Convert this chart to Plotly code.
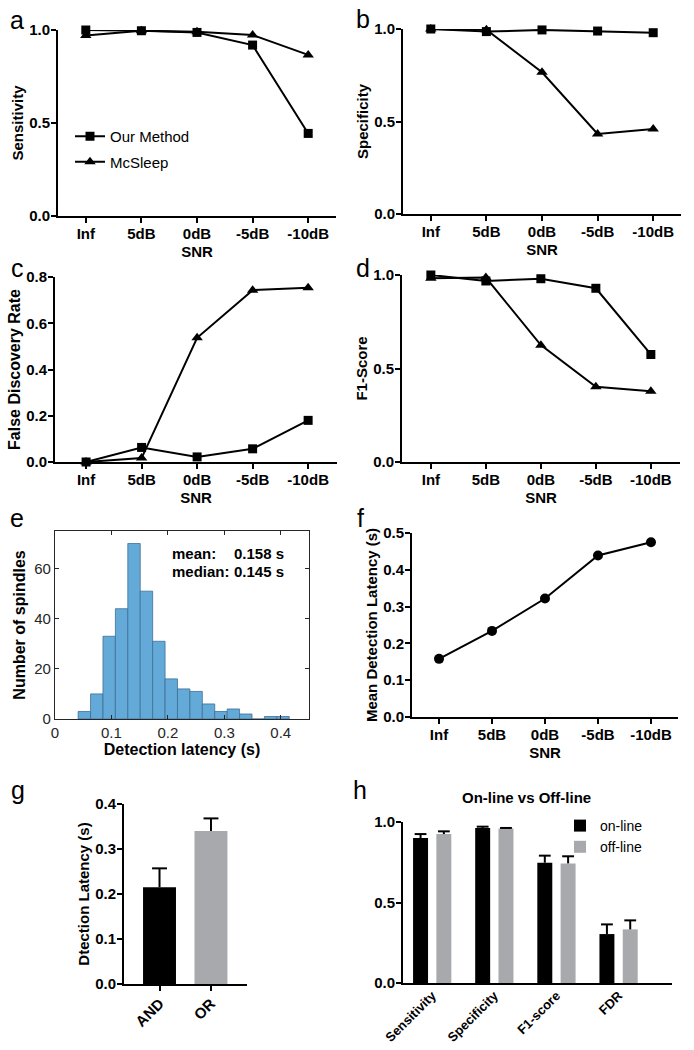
import plotly.graph_objects as go

W, H = 694, 1050
FONT = "Liberation Sans, Arial, sans-serif"

# ---- data ----
snr = ['Inf', '5dB', '0dB', '-5dB', '-10dB']

sens_ours = [1.0, 0.996, 0.987, 0.919, 0.444]
sens_mc = [0.971, 0.996, 0.991, 0.973, 0.866]
spec_ours = [1.0, 0.986, 0.995, 0.989, 0.980]
spec_mc = [1.0, 0.996, 0.766, 0.433, 0.459]
fdr_ours = [0.0, 0.063, 0.022, 0.057, 0.180]
fdr_mc = [0.0, 0.017, 0.537, 0.743, 0.753]
f1_ours = [1.0, 0.968, 0.980, 0.929, 0.575]
f1_mc = [0.982, 0.986, 0.625, 0.402, 0.379]

hist_start = 0.041
hist_width = 0.022
hist_counts = [3, 10, 33, 44, 70, 51, 31, 16, 12, 11, 6, 3, 4, 2, 0, 1, 1]
hist_mean = '0.158 s'
hist_median = '0.145 s'

latency_mean = [0.158, 0.234, 0.322, 0.439, 0.475]

logic = ['AND', 'OR']
logic_latency = [0.215, 0.340]
logic_err = [0.042, 0.028]

metrics = ['Sensitivity', 'Specificity', 'F1-score', 'FDR']
online = [0.900, 0.963, 0.747, 0.304]
online_err = [0.025, 0.008, 0.044, 0.060]
offline = [0.925, 0.959, 0.743, 0.333]
offline_err = [0.017, 0.004, 0.044, 0.056]


# pixel helpers -> paper domains
def dx(left, right):
    return [left / W, right / W]


def dy(top, bottom):
    return [1 - bottom / H, 1 - top / H]


def prism_axis(domain, rng, **kw):
    d = dict(domain=domain, range=rng, showline=True, linecolor='black', linewidth=2,
             ticks='outside', ticklen=5, tickwidth=2, tickcolor='black',
             showgrid=False, zeroline=False, automargin=False, ticklabelstandoff=-2,
             tickfont=dict(family=FONT, size=15, color='black', weight='bold'))
    d.update(kw)
    return d


def title(text, size=15, standoff=6):
    return dict(text=text, standoff=standoff,
                font=dict(family=FONT, size=size, color='black', weight='bold'))


def err_lines(xs, tops, errs, half):
    ex, ey = [], []
    for x, t, e in zip(xs, tops, errs):
        ex += [x, x, None, x - half, x + half, None]
        ey += [t, t + e, None, t + e, t + e, None]
    return ex, ey


fig = go.Figure()

line = dict(color='black', width=2)
sq = dict(symbol='square', size=9, color='black')
tri = dict(symbol='triangle-up', size=10, color='black')

# a - d: line panels
panels = [('x', 'y', sens_ours, sens_mc), ('x2', 'y2', spec_ours, spec_mc),
          ('x3', 'y3', fdr_ours, fdr_mc), ('x4', 'y4', f1_ours, f1_mc)]
for i, (xa, ya, ours, mc) in enumerate(panels):
    fig.add_trace(go.Scatter(x=snr, y=ours, mode='lines+markers', name='Our Method',
                             line=line, marker=sq, xaxis=xa, yaxis=ya, cliponaxis=False,
                             showlegend=(i == 0), legend='legend', legendgroup='ours'))
    fig.add_trace(go.Scatter(x=snr, y=mc, mode='lines+markers', name='McSleep',
                             line=line, marker=tri, xaxis=xa, yaxis=ya, cliponaxis=False,
                             showlegend=(i == 0), legend='legend', legendgroup='mc'))

# e: histogram
centers = [hist_start + hist_width * (k + 0.5) for k in range(len(hist_counts))]
fig.add_trace(go.Bar(x=centers, y=hist_counts, width=hist_width, xaxis='x5', yaxis='y5',
                     marker=dict(color='#64aad9', line=dict(color='#3f6e94', width=0.8)),
                     showlegend=False))

# f: mean latency
fig.add_trace(go.Scatter(x=snr, y=latency_mean, mode='lines+markers', line=line,
                         marker=dict(symbol='circle', size=10, color='black'),
                         xaxis='x6', yaxis='y6', cliponaxis=False, showlegend=False))

# g: AND / OR bars
gx = list(range(len(logic)))
fig.add_trace(go.Bar(x=gx, y=logic_latency, width=0.64, xaxis='x7', yaxis='y7',
                     marker=dict(color=['black', '#a7a9ac'], line=dict(width=0)),
                     showlegend=False))
ex, ey = err_lines(gx, logic_latency, logic_err, 0.145)
fig.add_trace(go.Scatter(x=ex, y=ey, mode='lines', line=dict(color='black', width=2),
                         xaxis='x7', yaxis='y7', cliponaxis=False, showlegend=False))

# h: on-line vs off-line
off = 0.1875
hx_on = [k - off for k in range(len(metrics))]
hx_off = [k + off for k in range(len(metrics))]
fig.add_trace(go.Bar(x=hx_on, y=online, width=0.241, name='on-line', xaxis='x8', yaxis='y8',
                     marker=dict(color='black', line=dict(width=0)), legend='legend2'))
fig.add_trace(go.Bar(x=hx_off, y=offline, width=0.241, name='off-line', xaxis='x8', yaxis='y8',
                     marker=dict(color='#a7a9ac', line=dict(width=0)), legend='legend2'))
for xs, ys, es in [(hx_on, online, online_err), (hx_off, offline, offline_err)]:
    ex, ey = err_lines(xs, ys, es, 0.095)
    fig.add_trace(go.Scatter(x=ex, y=ey, mode='lines', line=dict(color='black', width=2),
                             xaxis='x8', yaxis='y8', cliponaxis=False, showlegend=False))

# ---- layout ----
cat5 = dict(type='category', categoryorder='array', categoryarray=snr)
fig.update_layout(
    template='none',
    width=W, height=H, margin=dict(l=0, r=0, t=0, b=0, autoexpand=False),
    paper_bgcolor='white', plot_bgcolor='white', barmode='overlay',
    font=dict(family=FONT, color='black'),
    xaxis=prism_axis(dx(58, 336), [-0.5, 4.5], anchor='y', title=title('SNR', standoff=5), **cat5),
    yaxis=prism_axis(dy(30, 216), [0, 1], anchor='x', tickvals=[0, 0.5, 1], tickformat='.1f',
                     title=title('Sensitivity', standoff=2)),
    xaxis2=prism_axis(dx(403, 681), [-0.5, 4.5], anchor='y2', title=title('SNR', standoff=5), **cat5),
    yaxis2=prism_axis(dy(29, 214), [0, 1], anchor='x2', tickvals=[0, 0.5, 1], tickformat='.1f',
                      title=title('Specificity', standoff=2)),
    xaxis3=prism_axis(dx(55, 337), [-0.56, 4.52], anchor='y3', title=title('SNR', standoff=5), **cat5),
    yaxis3=prism_axis(dy(277, 462), [0, 0.8], anchor='x3', tickvals=[0, 0.2, 0.4, 0.6, 0.8],
                      tickformat='.1f', title=title('False Discovery Rate', size=16, standoff=2)),
    xaxis4=prism_axis(dx(402, 680), [-0.525, 4.53], anchor='y4', title=title('SNR', standoff=5), **cat5),
    yaxis4=prism_axis(dy(275, 462), [0, 1], anchor='x4', tickvals=[0, 0.5, 1], tickformat='.1f',
                      title=title('F1-Score', standoff=2)),
    xaxis5=dict(domain=dx(55, 309), range=[0, 0.45], anchor='y5', showline=True, mirror='ticks',
                linecolor='#262626', linewidth=1.2, ticks='inside', ticklen=4, tickcolor='#262626',
                tickvals=[0, 0.1, 0.2, 0.3, 0.4], showgrid=False, zeroline=False, automargin=False,
                tickfont=dict(family=FONT, size=15, color='#262626'),
                title=title('Detection latency (s)', size=16, standoff=3)),
    yaxis5=dict(domain=dy(531, 719), range=[0, 75], anchor='x5', showline=True, mirror='ticks',
                linecolor='#262626', linewidth=1.2, ticks='inside', ticklen=4, tickcolor='#262626',
                tickvals=[0, 20, 40, 60], showgrid=False, zeroline=False, automargin=False,
                tickfont=dict(family=FONT, size=15, color='#262626'),
                title=title('Number of spindles', size=16, standoff=4)),
    xaxis6=prism_axis(dx(412, 678), [-0.51, 4.51], anchor='y6', title=title('SNR', standoff=5), **cat5),
    yaxis6=prism_axis(dy(533, 717), [0, 0.5], anchor='x6', dtick=0.1, tickformat='.1f',
                      title=title('Mean Detection Latency (s)', standoff=2)),
    xaxis7=prism_axis(dx(124, 247), [-0.69, 1.7], anchor='y7', tickvals=gx, ticktext=logic,
                      tickangle=-45),
    yaxis7=prism_axis(dy(804, 984), [0, 0.4], anchor='x7', dtick=0.1, tickformat='.1f',
                      title=title('Dtection Latency (s)', standoff=2)),
    xaxis8=prism_axis(dx(403, 672), [-0.47, 3.86], anchor='y8', ticks='',
                      tickvals=list(range(len(metrics))), ticktext=metrics, tickangle=-45,
                      tickfont=dict(family=FONT, size=13, color='black', weight='bold')),
    yaxis8=prism_axis(dy(822, 983), [0, 1], anchor='x8', tickvals=[0, 0.5, 1], tickformat='.1f'),
    legend=dict(x=70 / W, y=1 - 120 / H, xanchor='left', yanchor='top', bgcolor='rgba(0,0,0,0)',
                font=dict(family=FONT, size=15, color='black'), tracegroupgap=3),
    legend2=dict(x=560 / W, y=1 - 810 / H, xanchor='left', yanchor='top', bgcolor='rgba(0,0,0,0)',
                 font=dict(family=FONT, size=14, color='black')),
)

# panel letters
for letter, px, py in [('a', 17, 20), ('b', 363, 19), ('c', 17, 268), ('d', 363, 268),
                       ('e', 17, 518), ('f', 360, 518), ('g', 18, 790), ('h', 360, 790)]:
    fig.add_annotation(text=letter, x=px / W, y=1 - py / H, xref='paper', yref='paper',
                       xanchor='center', yanchor='middle', showarrow=False,
                       font=dict(family=FONT, size=25, color='black'))

# histogram stats
for label, val, py in [('mean:', hist_mean, 553), ('median:', hist_median, 571)]:
    fig.add_annotation(text=label, x=170 / W, y=1 - py / H, xref='paper', yref='paper',
                       xanchor='left', yanchor='middle', showarrow=False,
                       font=dict(family=FONT, size=15, color='black', weight='bold'))
    fig.add_annotation(text=val, x=232 / W, y=1 - py / H, xref='paper', yref='paper',
                       xanchor='left', yanchor='middle', showarrow=False,
                       font=dict(family=FONT, size=15, color='black', weight='bold'))

fig.add_annotation(text='On-line vs Off-line', x=526 / W, y=1 - 797 / H, xref='paper',
                   yref='paper', xanchor='center', yanchor='middle', showarrow=False,
                   font=dict(family=FONT, size=15, color='black', weight='bold'))

fig.write_html("out.html", config={'displayModeBar': False},
               post_script="document.body.style.margin='0px';")
